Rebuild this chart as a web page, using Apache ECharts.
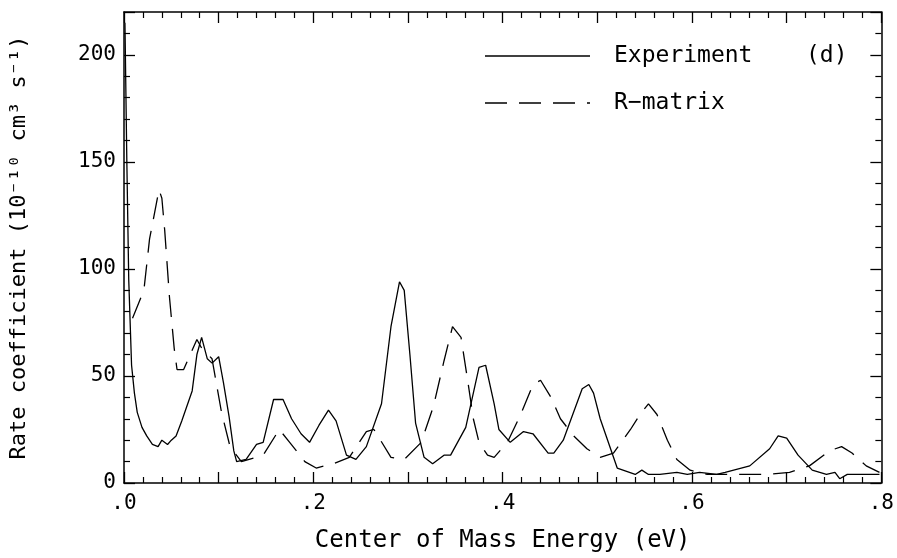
<!DOCTYPE html>
<html><head><meta charset="utf-8">
<script src="https://cdn.jsdelivr.net/npm/echarts@6/dist/echarts.min.js"></script>
<style>html,body{margin:0;background:#fff}#c{width:897px;height:558px}</style>
</head><body><div id="c"></div>
<script>
const expE=[0.001,0.003,0.005,0.008,0.011,0.014,0.019,0.024,0.03,0.036,0.04,0.046,0.05,0.055,0.061,0.072,0.077,0.082,0.088,0.093,0.1,0.105,0.111,0.116,0.119,0.129,0.14,0.147,0.158,0.168,0.177,0.187,0.196,0.206,0.216,0.224,0.235,0.245,0.256,0.272,0.282,0.291,0.296,0.302,0.308,0.317,0.326,0.338,0.345,0.361,0.375,0.382,0.391,0.396,0.408,0.422,0.432,0.448,0.454,0.464,0.484,0.491,0.496,0.503,0.521,0.54,0.547,0.554,0.566,0.584,0.595,0.608,0.626,0.635,0.661,0.682,0.691,0.7,0.712,0.727,0.742,0.751,0.756,0.764,0.784,0.798];
const expV=[215,150,95,55,42,33,26,22,18,17,20,18,20,22,29,43,60,68,58,56,59,47,31,15,10,11,18,19,39,39,30,23,19,27,34,29,13,11,17,37,73,94,90,60,28,12,9,13,13,26,54,55,37,25,19,24,23,14,14,20,44,46,42,30,7,4,6,4,4,5,4,5,4,5,8,16,22,21,13,6,4,5,2,4,4,4];
const rmE=[0.009,0.021,0.027,0.037,0.04,0.043,0.048,0.053,0.056,0.063,0.077,0.082,0.093,0.103,0.112,0.124,0.147,0.164,0.175,0.191,0.203,0.221,0.238,0.256,0.264,0.282,0.296,0.314,0.327,0.338,0.347,0.356,0.363,0.369,0.375,0.384,0.391,0.405,0.419,0.432,0.44,0.451,0.461,0.475,0.489,0.503,0.517,0.535,0.545,0.554,0.563,0.574,0.584,0.598,0.616,0.643,0.679,0.703,0.724,0.745,0.758,0.769,0.784,0.798];
const rmV=[77,90,114,137,133,118,87,63,53,53,67,63,58,33,17,10,13,25,19,10,7,9,12,24,25,12,11,19,36,57,73,68,48,30,19,13,12,19,32,46,48,40,30,22,16,12,14,25,32,37,32,20,11,6,4,4,4,5,8,15,17,14,8,5];
const xTicks={0:'.0',0.2:'.2',0.4:'.4',0.6:'.6',0.8:'.8'};
const legendNames=['Experiment','R\u2212matrix','(d)'];
const F='DejaVu Sans Mono';
const ch=echarts.init(document.getElementById('c'));
const ax={axisLine:{onZero:false,lineStyle:{color:'#000',width:1.5}},axisTick:{inside:true,length:11,lineStyle:{color:'#000',width:1.3}},minorTick:{show:true,length:6,lineStyle:{color:'#000',width:1.2}},splitLine:{show:false}};
const lbl={fontFamily:F,fontSize:21,color:'#000'};
ch.setOption({
 animation:false,
 grid:{left:122,right:15,top:12,bottom:71},
 textStyle:{fontFamily:F},
 graphic:[
  {type:'line',shape:{x1:485,y1:56,x2:590,y2:56},style:{stroke:'#000',lineWidth:1.3}},
  {type:'line',shape:{x1:485,y1:103,x2:590,y2:103},style:{stroke:'#000',lineWidth:1.3,lineDash:[22,12]}},
  {type:'text',x:614,y:56,style:{text:legendNames[0],font:'23px "DejaVu Sans Mono"',fill:'#000',verticalAlign:'middle'}},
  {type:'text',x:614,y:103,style:{text:legendNames[1],font:'23px "DejaVu Sans Mono"',fill:'#000',verticalAlign:'middle'}},
  {type:'text',x:806,y:56,style:{text:legendNames[2],font:'23px "DejaVu Sans Mono"',fill:'#000',verticalAlign:'middle'}}
 ],
 xAxis:[{type:'value',min:0,max:0.8,interval:0.1,minorSplitNumber:2,...ax,
   axisLabel:{...lbl,margin:10,formatter:v=>xTicks[Math.round(v*10)/10]??''},
   name:'Center of Mass Energy (eV)',nameLocation:'middle',nameGap:46,nameTextStyle:{...lbl,fontSize:24}},
  {type:'value',position:'top',min:0,max:0.8,interval:0.1,minorSplitNumber:2,...ax,axisLabel:{show:false}}],
 yAxis:[{type:'value',min:0,max:220,interval:50,minorSplitNumber:5,...ax,
   axisLabel:{...lbl,margin:8,formatter:v=>v<=200?String(v):''},
   name:'Rate coefficient (10\u207B\u00B9\u2070 cm\u00B3 s\u207B\u00B9)',nameLocation:'middle',nameGap:94,nameTextStyle:{...lbl,fontSize:22}},
  {type:'value',position:'right',min:0,max:220,interval:50,minorSplitNumber:5,...ax,axisLabel:{show:false}}],
 series:[
  {name:'Experiment',type:'line',symbol:'none',data:expE.map((e,i)=>[e,expV[i]]),lineStyle:{color:'#000',width:1.3}},
  {name:'R\u2212matrix',type:'line',symbol:'none',data:rmE.map((e,i)=>[e,rmV[i]]),lineStyle:{color:'#000',width:1.3,type:[22,12]}}
 ]
});
</script></body></html>
